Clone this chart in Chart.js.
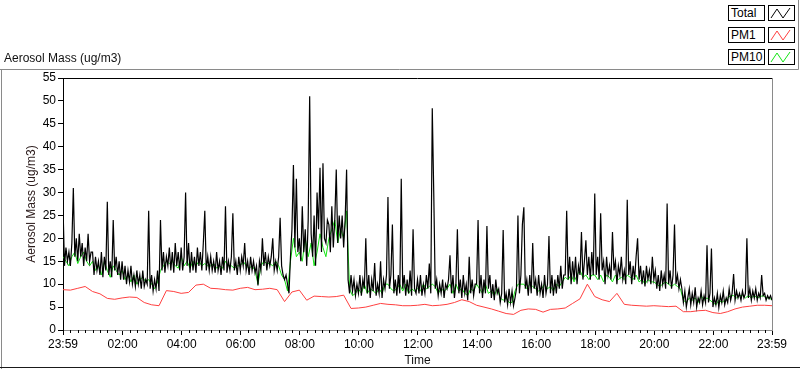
<!DOCTYPE html>
<html><head><meta charset="utf-8">
<script src="https://cdn.jsdelivr.net/npm/chart.js@4/dist/chart.umd.min.js"></script>
<style>
html,body{margin:0;padding:0;background:#fff;}
#wrap{position:relative;width:800px;height:369px;overflow:hidden;font-family:"Liberation Sans",Arial,sans-serif;}
canvas{position:absolute;left:0;top:0;}
.title{position:absolute;left:4px;top:51px;font-size:12px;color:#111;}
.lg{position:absolute;box-sizing:border-box;border:1px solid #000;background:#fff;height:16px;}
.lt{left:728px;width:37px;font-size:12px;line-height:14px;padding-left:2px;color:#000;}
.li{left:768px;width:27px;}
.li svg{position:absolute;left:0;top:0;}
</style></head>
<body><div id="wrap">
<canvas id="c" width="800" height="369"></canvas>
<div class="title">Aerosol Mass (ug/m3)</div>
<div class="lg lt" style="top:5px">Total</div>
<div class="lg li" style="top:5px"><svg width="25" height="14"><polyline points="2,12 8,3 14,12 21,2" fill="none" stroke="#000" stroke-width="1"/></svg></div>
<div class="lg lt" style="top:27px">PM1</div>
<div class="lg li" style="top:27px"><svg width="25" height="14"><polyline points="2,12 8,3 14,12 21,2" fill="none" stroke="#ff4040" stroke-width="1"/></svg></div>
<div class="lg lt" style="top:49px">PM10</div>
<div class="lg li" style="top:49px"><svg width="25" height="14"><polyline points="2,12 8,3 14,12 21,2" fill="none" stroke="#14e614" stroke-width="1"/></svg></div>
</div>
<script>
// minutes after 23:59 (previous day)
const xTickMinutes = [0,121,241,361,481,601,721,841,961,1081,1201,1321,1440];
const xTickLabels = ['23:59','02:00','04:00','06:00','08:00','10:00','12:00','14:00','16:00','18:00','20:00','22:00','23:59'];
const yTickValues = [0,5,10,15,20,25,30,35,40,45,50,55];

// Total sampled every 3 minutes (one row per hour)
const totalStepMin = 3;
const totalMass = [
27,14,18,15,17,14,19,31,16,20,15,21,16,19,14,18,15,21,15,17,
17,12,16,13,15,12,17,11.5,16,13,28,12,15,11.5,24,13,16,12,15,11,
15,11,14,10,13,10.5,14,10,12,9.5,13,10,12,9,13,9.5,11,10,26,9,
12,8.5,11,9,13,8.5,24,13,17,12.5,16,14,18,13,17,12.5,19,14,17,13,
18,13,16,30,14,19,12.5,17,13,16,12.5,18,14,17,13,19,26,13,16,13,
16,13,15,12.5,17,13,15,12,16,13,27,12.5,15,13,16,25.5,13,15,12,16,
13,16,14,19,13,15,12,16,13,15,12.5,14,9.7,15,13,20,14,17,13,16,
14,16,20,13,15,13,16,24.5,14,12,11,12,10,8,16,22,36,18,33,17,
20,15,27,17,22,14,24,51,21,16,25,14,30,22,35.4,17,36.4,20,19,24,
23,17,27,18,24,35,19,25,20,25,18,24,35,11,8,12,8.5,11,7.5,10,
8,12,7.5,11,9,20,8,12,7,11,8.5,14.6,7.5,10,8,15,7,11,9,12,
29,9,12,23,8,11,7.5,12,8,33,9,12,7.5,11,8,13,7.5,22,9,8,
11,8,12,7.5,10,8,12,9,14.5,8,48.4,30,9,11,7.5,10,8,11,7,10,
9,11,16.3,8,12,7,10,22,8,11,7,12,8,10,6.5,16,8,11,7.5,10,
10,24,8,12,7,11,8,22.7,9,12,7,10,6.5,11,8,9,6,8,21.8,6,
8,5.5,9,6,8.5,5.3,7,9,25,8,12,23,26.8,9,11,7.5,12,8,19,9,
11,7.5,12,8,10,7,12,8,10,20.5,8,12,7.5,11,8,12,9,14,9,12,
12,26,11,16,10,15,11,16,10,14,12,21.4,11,15,19.6,12,16,11,17,12,
29.8,12,16,11,25.5,13,15,10,16,12,14,11,21.4,13,15,10,14,12,16,11,
13,10,28.4,12,15,10,14,11,16,20,11,14,10,13,9.5,14,11,13,10,16,
11,13,9,12,8.5,13,10,12,9,27.6,10,13,9,12,23,10,12,9,11,9,
6,8.5,5,7,9,5.5,8,6,9.3,5,7,6,8.5,5.5,7.5,6,18.5,6,8,17.8,
5,7,5.5,8,4.9,7.5,6,8.5,5.5,7,6,9,6.5,8,12.2,6.5,8.5,7,8,6.5,
8.5,7,8,20,7,9,6.5,8.5,7,9,6.5,8,7,12,7.5,8,6.5,7.5,6.8,7.5,
6.5];

// PM10 sampled every 6 minutes (one row per hour)
const pm10StepMin = 6;
const pm10Mass = [
16,15,14,16,17,14.5,16,17,15,14,
15,13,14,12,15,13,11.5,14,13,12,
13,11,12,10.5,12,10,11,11.5,10.5,11,
10,9,10.5,13,14,15,14.5,15,14,13.5,
16,14,15,13.5,15,14,15,14,14.5,14,
14,14.5,13.5,14,13.5,15,14,14,13.5,14,
14,15,14,13.5,14,13,10,14,15,14.5,
14.5,14,15,14,12,11,8.5,15,20,16,
17,15,20,16,19,14,17,21,18,16,
20,22,24,19,22,20,26,9,7.5,8,
9,8,10,8,9,8.5,8,9,8,10,
10,9,8.5,9,10,8.5,10,8,9,8.5,
9,8.5,10,9,9.5,10,9.5,8,9,8.5,
9,10,8,10,8.5,9,8,7.5,9,8.5,
10,9,8,10,8,8.5,7.5,9,7,6.5,
7,6,6,8.5,10,10,10,9,10,9.5,
9,8.5,9,10,9,9.5,8.5,10,9.5,10.5,
11.5,11,12,10.5,12,13,11.5,12,11,12,
12,11,12,10.5,12,11.5,10.5,12,11,11.5,
11,12,11.5,11,12,10.5,11,10,11,10.5,
10.5,10,9.5,10,10.5,10,9.5,10,9.5,9,
6.5,6,7,6.5,7,6,7.5,6.5,7,6.5,
6,5.5,6.5,6,6.5,7,7.5,7.5,7,7.5,
7.5,7,7.5,7,7.5,7,7.3,7.5,7,7,
6.6];

// PM1 sampled every 15 minutes
const pm1StepMin = 15;
const pm1Mass = [
8.8,8.7,9.1,9.5,8.4,7.9,6.9,6.7,7.0,7.2,7.1,6.0,
5.5,5.3,8.6,8.4,8.0,8.2,9.8,10.0,9.1,9.0,8.8,8.7,
9.1,9.3,8.8,8.9,9.1,8.8,6.2,8.3,8.7,6.5,7.4,7.3,
7.2,7.3,7.6,4.7,4.8,5.0,5.4,5.8,5.6,5.5,5.3,5.3,
5.4,5.6,5.3,5.4,5.6,6.0,6.6,6.2,5.4,5.0,4.6,4.1,
3.6,3.4,4.3,4.6,4.5,3.9,4.5,4.6,4.8,5.8,6.8,10.0,
7.3,6.6,6.2,8.0,5.6,5.4,5.3,5.2,5.3,5.2,5.1,5.2,
4.0,4.0,4.2,4.3,3.8,3.6,4.0,4.6,5.0,5.2,5.4,5.4,
5.3];

const toXY = (arr, step) => arr.map((v, i) => ({x: i * step, y: v}));

const decor = {
  id: 'decor',
  beforeDraw(c) {
    const ctx = c.ctx;
    ctx.save();
    ctx.fillStyle = '#fff';
    ctx.fillRect(0, 0, c.width, c.height);
    ctx.strokeStyle = '#8a8a8a';
    ctx.lineWidth = 1;
    ctx.beginPath();
    ctx.moveTo(0, 69.5); ctx.lineTo(798.5, 69.5); ctx.lineTo(798.5, 0);
    ctx.moveTo(1.5, 69.5); ctx.lineTo(1.5, 369);
    ctx.stroke();
    ctx.strokeStyle = '#1a1a1a';
    ctx.beginPath(); ctx.moveTo(0, 367.5); ctx.lineTo(800, 367.5); ctx.stroke();
    ctx.restore();
  },
  afterDraw(c) {
    const ctx = c.ctx, a = c.chartArea, xs = c.scales.x;
    ctx.save();
    ctx.lineWidth = 1;
    ctx.strokeStyle = '#000';
    ctx.beginPath(); ctx.moveTo(a.left, a.top + 0.5); ctx.lineTo(a.right, a.top + 0.5); ctx.stroke();
    ctx.strokeStyle = '#8a8a8a';
    ctx.beginPath(); ctx.moveTo(a.right + 0.5, a.top); ctx.lineTo(a.right + 0.5, a.bottom); ctx.stroke();
    ctx.strokeStyle = '#000';
    ctx.beginPath();
    for (let k = 0; k < xTickMinutes.length - 1; k++) {
      for (let m = xTickMinutes[k] + 15; m < xTickMinutes[k + 1] - 5; m += 15) {
        const px = Math.round(xs.getPixelForValue(m)) + 0.5;
        ctx.moveTo(px, a.bottom); ctx.lineTo(px, a.bottom + 3);
      }
    }
    ctx.stroke();
    ctx.restore();
  }
};

new Chart(document.getElementById('c'), {
  type: 'line',
  data: {
    datasets: [
      {label: 'Total', data: toXY(totalMass, totalStepMin), borderColor: '#000', borderWidth: 1.2, order: 0},
      {label: 'PM1', data: toXY(pm1Mass, pm1StepMin), borderColor: '#ff4040', borderWidth: 1, order: 1},
      {label: 'PM10', data: toXY(pm10Mass, pm10StepMin), borderColor: '#14e614', borderWidth: 1, order: 2}
    ]
  },
  options: {
    responsive: false,
    animation: false,
    devicePixelRatio: 1,
    layout: {padding: {left: 24, top: 78, right: 28, bottom: 0}},
    elements: {point: {radius: 0}, line: {tension: 0, fill: false}},
    plugins: {legend: {display: false}, tooltip: {enabled: false}},
    scales: {
      x: {
        type: 'linear', min: 0, max: 1440,
        afterBuildTicks: s => { s.ticks = xTickMinutes.map(v => ({value: v})); },
        afterFit: s => { s.height = 39; },
        ticks: {
          autoSkip: false, maxRotation: 0, padding: 2, color: '#000',
          font: {family: 'Liberation Sans', size: 12},
          callback: (v, i) => xTickLabels[i]
        },
        grid: {drawOnChartArea: false, tickLength: 5, tickColor: '#000'},
        border: {color: '#8a8a8a'},
        title: {display: true, text: 'Time', color: '#111', font: {family: 'Liberation Sans', size: 12}, padding: {top: 0, bottom: 1}}
      },
      y: {
        type: 'linear', min: 0, max: 55,
        afterBuildTicks: s => { s.ticks = yTickValues.map(v => ({value: v})); },
        afterFit: s => { s.width = 39; },
        ticks: {padding: 2, color: '#000', font: {family: 'Liberation Sans', size: 12}},
        grid: {drawOnChartArea: false, tickLength: 5, tickColor: '#000'},
        border: {color: '#000'},
        title: {display: true, text: 'Aerosol Mass (ug/m3)', color: '#2a1a1a', font: {family: 'Liberation Sans', size: 12}, padding: {top: 0, bottom: 0}}
      }
    }
  },
  plugins: [decor]
});
</script>
</body></html>
